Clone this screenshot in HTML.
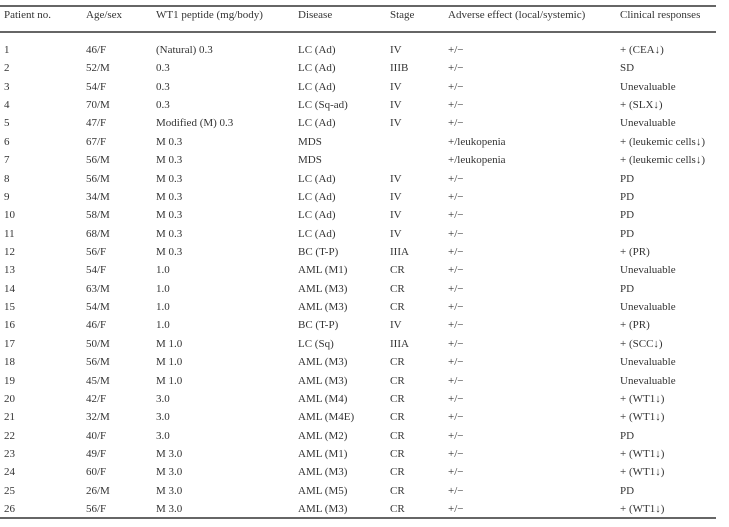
<!DOCTYPE html>
<html><head><style>
body{margin:0;width:729px;height:527px;background:#fff;position:relative;font-family:"Liberation Serif",serif;font-size:11px;color:#333;overflow:hidden}
.l{position:absolute;left:0;width:716px;background:#666}
.r{position:absolute;left:0;height:18px;line-height:18px;width:729px}
.r span{position:absolute;white-space:nowrap}
.c0{left:4px}.c1{left:86px}.c2{left:156px}.c3{left:298px}.c4{left:390px}.c5{left:448px}.c6{left:620px}
</style></head><body>
<div class="l" style="top:5px;height:2px"></div>
<div class="l" style="top:31px;height:2px"></div>
<div class="l" style="top:517px;height:2px"></div>
<div class="r" style="top:6px"><span class="c0">Patient no.</span><span class="c1">Age/sex</span><span class="c2">WT1 peptide (mg/body)</span><span class="c3">Disease</span><span class="c4">Stage</span><span class="c5">Adverse effect (local/systemic)</span><span class="c6">Clinical responses</span></div>
<div id="rows"></div>
<script>
var d=[["1","46/F","(Natural) 0.3","LC (Ad)","IV","+/−","+ (CEA↓)"],
["2","52/M","0.3","LC (Ad)","IIIB","+/−","SD"],
["3","54/F","0.3","LC (Ad)","IV","+/−","Unevaluable"],
["4","70/M","0.3","LC (Sq-ad)","IV","+/−","+ (SLX↓)"],
["5","47/F","Modified (M) 0.3","LC (Ad)","IV","+/−","Unevaluable"],
["6","67/F","M 0.3","MDS","","+/leukopenia","+ (leukemic cells↓)"],
["7","56/M","M 0.3","MDS","","+/leukopenia","+ (leukemic cells↓)"],
["8","56/M","M 0.3","LC (Ad)","IV","+/−","PD"],
["9","34/M","M 0.3","LC (Ad)","IV","+/−","PD"],
["10","58/M","M 0.3","LC (Ad)","IV","+/−","PD"],
["11","68/M","M 0.3","LC (Ad)","IV","+/−","PD"],
["12","56/F","M 0.3","BC (T-P)","IIIA","+/−","+ (PR)"],
["13","54/F","1.0","AML (M1)","CR","+/−","Unevaluable"],
["14","63/M","1.0","AML (M3)","CR","+/−","PD"],
["15","54/M","1.0","AML (M3)","CR","+/−","Unevaluable"],
["16","46/F","1.0","BC (T-P)","IV","+/−","+ (PR)"],
["17","50/M","M 1.0","LC (Sq)","IIIA","+/−","+ (SCC↓)"],
["18","56/M","M 1.0","AML (M3)","CR","+/−","Unevaluable"],
["19","45/M","M 1.0","AML (M3)","CR","+/−","Unevaluable"],
["20","42/F","3.0","AML (M4)","CR","+/−","+ (WT1↓)"],
["21","32/M","3.0","AML (M4E)","CR","+/−","+ (WT1↓)"],
["22","40/F","3.0","AML (M2)","CR","+/−","PD"],
["23","49/F","M 3.0","AML (M1)","CR","+/−","+ (WT1↓)"],
["24","60/F","M 3.0","AML (M3)","CR","+/−","+ (WT1↓)"],
["25","26/M","M 3.0","AML (M5)","CR","+/−","PD"],
["26","56/F","M 3.0","AML (M3)","CR","+/−","+ (WT1↓)"]];
var h="";d.forEach(function(r,i){h+='<div class="r" style="top:'+(41+i*18.36).toFixed(1)+'px">';r.forEach(function(c,j){h+='<span class="c'+j+'">'+c+'</span>'});h+='</div>'});
document.getElementById("rows").innerHTML=h;
</script>
</body></html>
